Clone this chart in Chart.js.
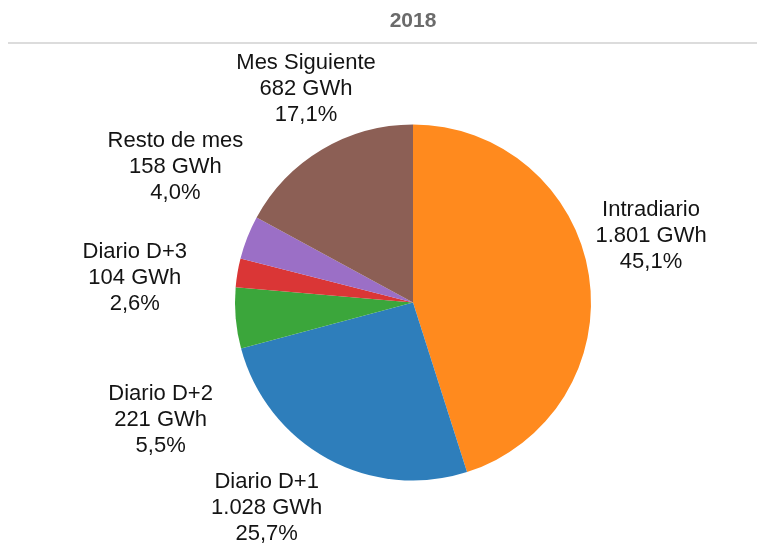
<!DOCTYPE html>
<html>
<head>
<meta charset="utf-8">
<script src="https://cdn.jsdelivr.net/npm/chart.js@4.4.0/dist/chart.umd.min.js"></script>
<style>
  html, body { margin: 0; padding: 0; background: #fff; }
  canvas { display: block; }
</style>
</head>
<body>
<canvas id="pie" width="757" height="557"></canvas>
<script>
const title = '2018';
const categories = ['Intradiario', 'Diario D+1', 'Diario D+2', 'Diario D+3', 'Resto de mes', 'Mes Siguiente'];
const energyGWh = [1801, 1028, 221, 104, 158, 682];
const sliceColors = ['#ff8a1e', '#2e7ebb', '#3ba63b', '#da3636', '#9b6fc6', '#8c5f55'];

// spanish style numbers: 1.801 and 45,1
function fmtThousands(n) {
    return String(n).replace(/\B(?=(\d{3})+(?!\d))/g, '.');
}
function fmtPct(p) {
    return p.toFixed(1).replace('.', ',') + '%';
}

const total = energyGWh.reduce((a, b) => a + b, 0);

// title + rule under it
const headerPlugin = {
    id: 'header',
    afterDraw(chart) {
        const c = chart.ctx;
        c.save();
        c.fillStyle = '#6b6b6b';
        c.font = 'bold 21px "Liberation Sans", Arial, sans-serif';
        c.textAlign = 'center';
        c.textBaseline = 'alphabetic';
        c.fillText(title, chart.chartArea.left + chart.chartArea.width / 2, 27);
        c.fillStyle = '#dcdcdc';
        c.fillRect(8, 42, chart.width - 8, 2);
        c.restore();
    }
};

// outside labels, three lines each
const outLabels = {
    id: 'outLabels',
    afterDatasetsDraw(chart, args, opts) {
        const c = chart.ctx;
        const meta = chart.getDatasetMeta(0);
        c.save();
        c.fillStyle = '#141414';
        c.font = opts.font;
        c.textAlign = 'center';
        c.textBaseline = 'alphabetic';
        meta.data.forEach((arc, i) => {
            const mid = (arc.startAngle + arc.endAngle) / 2 + opts.nudge[i] * Math.PI / 180;
            const d = arc.outerRadius * opts.reach[i];
            const cx = arc.x + d * Math.cos(mid);
            const cy = arc.y + d * Math.sin(mid);
            const v = energyGWh[i];
            const lines = [categories[i], fmtThousands(v) + ' GWh', fmtPct(v / total * 100)];
            lines.forEach((t, k) => {
                c.fillText(t, cx, cy + 7.5 + (k - 1) * opts.lineHeight);
            });
        });
        c.restore();
    }
};

new Chart(document.getElementById('pie'), {
    type: 'pie',
    data: {
        labels: categories,
        datasets: [{
            data: energyGWh,
            backgroundColor: sliceColors,
            borderWidth: 0,
            hoverOffset: 0
        }]
    },
    options: {
        responsive: false,
        animation: false,
        layout: {
            padding: { left: 235, right: 166, top: 124, bottom: 76 }
        },
        plugins: {
            legend: { display: false },
            tooltip: { enabled: false },
            outLabels: {
                font: '22px "Liberation Sans", Arial, sans-serif',
                lineHeight: 26,
                nudge: [-7, 7, -19.6, -4.2, 8.5, 4.3],
                reach: [1.39, 1.41, 1.56, 1.57, 1.54, 1.35]
            }
        }
    },
    plugins: [outLabels, headerPlugin]
});
</script>
</body>
</html>
